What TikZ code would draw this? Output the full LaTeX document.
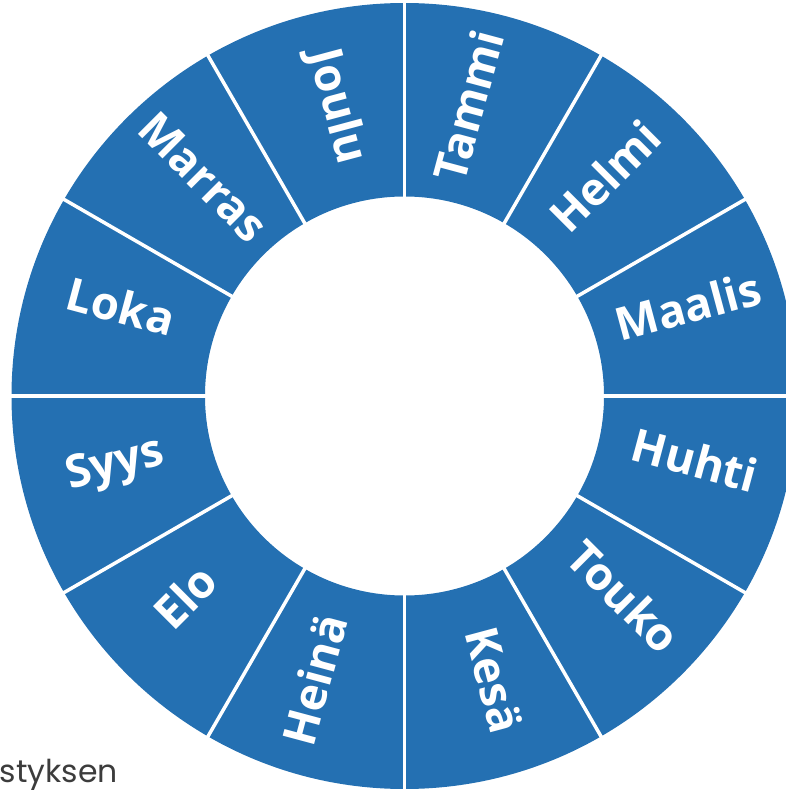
\documentclass[tikz,border=0pt]{standalone}
\usepackage{fontspec}
\newfontfamily\labfont{Open Sans}
\newfontfamily\notefont{Poppins}
\definecolor{ringblue}{RGB}{36,112,178}
\definecolor{notegray}{RGB}{60,60,60}
\begin{document}
\begin{tikzpicture}[x=1pt,y=1pt,
  month/.style={text=white,font=\labfont\bfseries\fontsize{45.5}{45.5}\selectfont,
    inner sep=0pt,anchor=center,text height=0.72em,text depth=0pt},
  divider/.style={draw=white,line width=3.5pt}]
\useasboundingbox (-404.5,-394) rectangle (381.5,396);
\clip (-404.5,-394) rectangle (381.5,396);
\fill[ringblue,even odd rule] (0,0) circle (393) (0,0) circle (199.5);
\foreach \a in {0,30,...,330}
  \draw[divider] (\a:198) -- (\a:396);
\foreach \name/\ang/\rot [count=\i] in {Tammi/75/75,Helmi/45/45,Maalis/15/15,Huhti/-15/-15,Touko/-45/-45,Kesä/-75/-75,Heinä/-105/75,Elo/-135/45,Syys/-165/15,Loka/165/-15,Marras/135/-45,Joulu/105/-75}
  \node[month,rotate=\rot] (m\i) at (\ang:297) {\name};
\node[font=\notefont\fontsize{31.5}{31.5}\selectfont,text=notegray,anchor=base west,inner sep=0pt] (note) at (-405,-386) {styksen};
\end{tikzpicture}
\end{document}
